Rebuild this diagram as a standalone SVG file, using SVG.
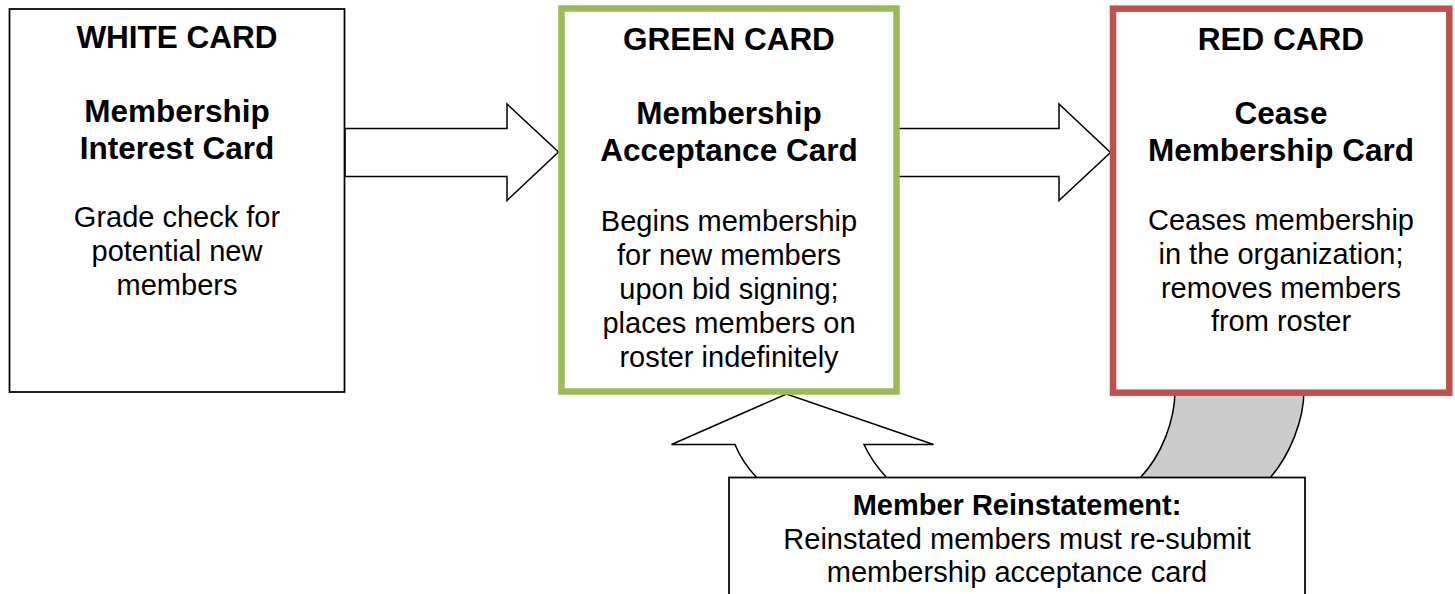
<svg xmlns="http://www.w3.org/2000/svg" width="1455" height="594" viewBox="0 0 1455 594">
<style>
  .card { fill: #ffffff; }
  .plain { stroke: #000000; stroke-width: 1.75; }
  .green { stroke: #9BBB59; stroke-width: 6.5; }
  .red { stroke: #C0504D; stroke-width: 6.5; }
  .arrow { fill: #ffffff; stroke: #000000; stroke-width: 1.5; stroke-linejoin: miter; }
  .band { fill: #CCCCCC; stroke: #000000; stroke-width: 1.5; }
  text { font-family: "Liberation Sans", Arial, sans-serif; fill: #000000; text-anchor: middle; }
  .h { font-weight: bold; font-size: 31.5px; }
  .b { font-size: 29px; }
  .hs { font-weight: bold; font-size: 29px; }
</style>
<rect width="1455" height="594" fill="#ffffff"/>
<g id="connectors">
  <path class="band" d="M1175,390 C1175,420 1162,455 1140,478 L1270,478 C1290,455 1304,420 1304,390 Z"/>
  <path class="arrow" d="M345,128.5 L507,128.5 L507,104 L558.5,152 L507,200.5 L507,176.5 L345,176.5 Z"/>
  <path class="arrow" d="M897,128.5 L1059,128.5 L1059,104 L1110.5,152.5 L1059,200.5 L1059,176.5 L897,176.5 Z"/>
  <path class="arrow" d="M757,478 Q742,462 735,444.5 L671.5,444.5 L786.5,394 L933.5,444.5 L864,444.5 Q872,462 887,478 Z"/>
</g>
<g id="white-card">
  <rect class="card plain" x="9.5" y="9" width="335" height="383"/>
  <text class="h" x="177" y="48">WHITE CARD</text>
  <text class="h" x="177" y="122">Membership</text>
  <text class="h" x="177" y="158.5">Interest Card</text>
  <text class="b" x="177" y="226.5">Grade check for</text>
  <text class="b" x="177" y="260.5">potential new</text>
  <text class="b" x="177" y="294.5">members</text>
</g>
<g id="green-card">
  <rect class="card green" x="561.5" y="8.5" width="335" height="383"/>
  <text class="h" x="729" y="50">GREEN CARD</text>
  <text class="h" x="729" y="124">Membership</text>
  <text class="h" x="729" y="161">Acceptance Card</text>
  <text class="b" x="729" y="231">Begins membership</text>
  <text class="b" x="729" y="265">for new members</text>
  <text class="b" x="729" y="299">upon bid signing;</text>
  <text class="b" x="729" y="333">places members on</text>
  <text class="b" x="729" y="367">roster indefinitely</text>
</g>
<g id="red-card">
  <rect class="card red" x="1113" y="8.7" width="336.3" height="384"/>
  <text class="h" x="1281" y="50">RED CARD</text>
  <text class="h" x="1281" y="124">Cease</text>
  <text class="h" x="1281" y="161">Membership Card</text>
  <text class="b" x="1281" y="230">Ceases membership</text>
  <text class="b" x="1281" y="264">in the organization;</text>
  <text class="b" x="1281" y="297.5">removes members</text>
  <text class="b" x="1281" y="331">from roster</text>
</g>
<g id="reinstatement">
  <rect class="card plain" x="729" y="477.5" width="576" height="140"/>
  <text class="hs" x="1017" y="515">Member Reinstatement:</text>
  <text class="b" x="1017" y="549">Reinstated members must re-submit</text>
  <text class="b" x="1017" y="582">membership acceptance card</text>
</g>
</svg>
